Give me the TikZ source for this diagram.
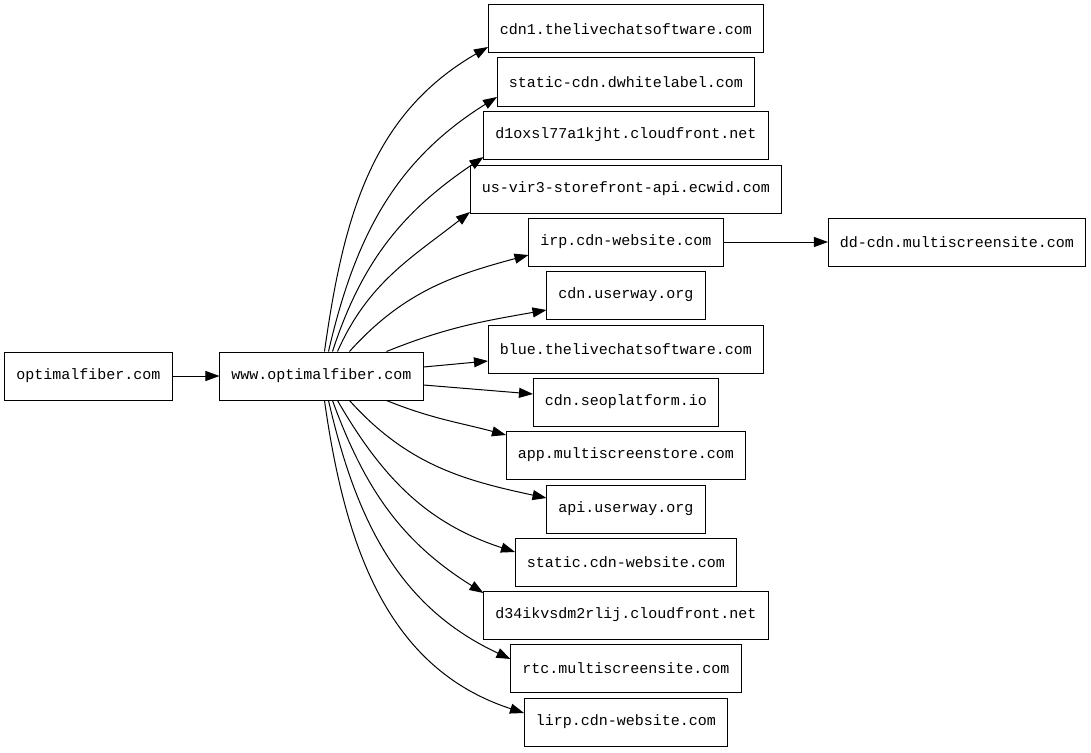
\documentclass[tikz,border=0pt]{standalone}
\usepackage{fontspec}
\setmonofont{Liberation Mono}
\usetikzlibrary{arrows.meta}

\begin{document}
\begin{tikzpicture}[x=1pt, y=1pt]
        \tikzstyle{gazda} = [draw, line width=1pt, inner xsep=11.5pt, inner ysep=0pt, minimum height=48pt, font=\fontsize{15}{18}\selectfont\ttfamily]
        \tikzstyle{leg}   = [-{Triangle[length=14pt, width=10pt]}, line width=1pt]

        \useasboundingbox (0,0) rectangle (1091,-752);

        % Nodurile de pornire.
        \node[gazda] (opt) at (88.5,-376) {optimalfiber.com};
        \node[gazda] (www) at (321.5,-376) {www.optimalfiber.com};

        % Destinatiile.
        \foreach[count=\c] \y/\txt in {
                 29/cdn1.thelivechatsoftware.com,
                 82/static-cdn.dwhitelabel.com,
                135/d1oxsl77a1kjht.cloudfront.net,
                189/us-vir3-storefront-api.ecwid.com,
                242/irp.cdn-website.com,
                295/cdn.userway.org,
                349/blue.thelivechatsoftware.com,
                402/cdn.seoplatform.io,
                455/app.multiscreenstore.com,
                509/api.userway.org,
                562/static.cdn-website.com,
                615/d34ikvsdm2rlij.cloudfront.net,
                668/rtc.multiscreensite.com,
                722/lirp.cdn-website.com} {
            \node[gazda] (d\c) at (626,-\y) {\txt};
        }
        \node[gazda] (dd) at (957,-242) {dd-cdn.multiscreensite.com};

        % Legaturile drepte.
        \draw[leg] (opt) -- (www);
        \draw[leg] (d5) -- (dd);
        \draw[leg] ([yshift=9pt]www.east) -- ([yshift=-12pt]d7.west);
        \draw[leg] ([yshift=-9pt]www.east) -- ([yshift=8pt]d8.west);

        % Legaturile curbe, in sus.
        \foreach \c/\dx/\ies/\intr/\dy in {
                1/105/82/210/-18,
                2/109/77/212/-15,
                3/113/72/214/-22,
                4/118/66/218/-23,
                5/130/48/195/-13,
                6/167/22/190/-15}
            \draw[leg] ([xshift=\dx pt]www.north west) to[out=\ies, in=\intr] ([yshift=\dy pt]d\c.west);

        % Legaturile curbe, in jos.
        \foreach \c/\dx/\ies/\intr/\dy in {
                9/167/-22/165/20,
               10/130/-48/168/11,
               11/118/-60/162/10,
               12/113/-70/148/22,
               13/109/-77/155/9,
               14/105/-82/162/9}
            \draw[leg] ([xshift=\dx pt]www.south west) to[out=\ies, in=\intr] ([yshift=\dy pt]d\c.west);
\end{tikzpicture}
\end{document}
